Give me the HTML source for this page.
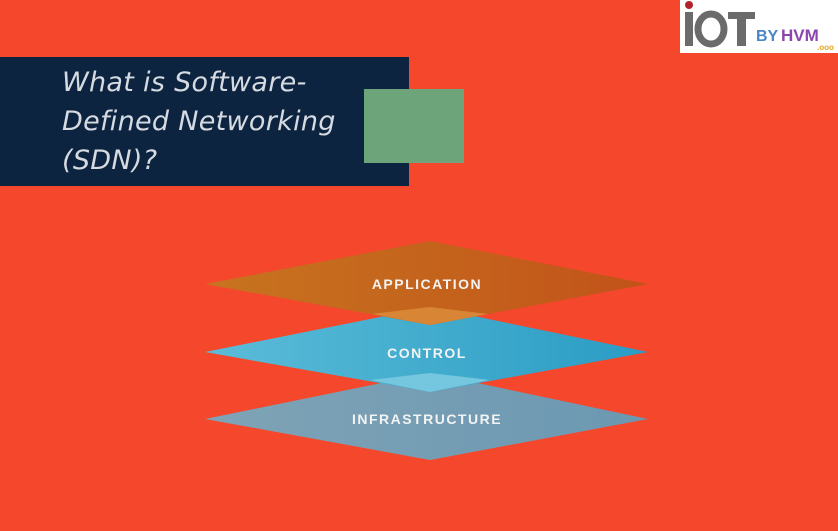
<!DOCTYPE html>
<html><head><style>
body{margin:0;width:838px;height:531px;background:#f4472b;overflow:hidden;position:relative;font-family:"Liberation Sans",sans-serif}
.t{position:absolute;left:0;top:57px;width:409px;height:129px;background:#0d2440}
.t div{position:absolute;left:62px;top:6px;color:#d6dbe2;font-family:"DejaVu Sans","Liberation Sans",sans-serif;font-size:27px;line-height:39px;font-style:italic;letter-spacing:0.3px}
.g{position:absolute;left:364px;top:89px;width:100px;height:74px;background:#6ea47a}
.logo{position:absolute;left:680px;top:0;width:158px;height:53px;background:#fff}
</style></head><body>
<div class="t"><div>What is Software-<br>Defined Networking<br>(SDN)?</div></div>
<div class="g"></div>
<div class="logo">
<svg width="158" height="53">
<circle cx="9" cy="5" r="4" fill="#b2222a"/>
<rect x="5" y="12" width="8" height="34" fill="#6b6b6b"/>
<ellipse cx="31" cy="29" rx="13" ry="15" fill="none" stroke="#6b6b6b" stroke-width="7"/>
<rect x="48" y="12" width="27" height="7" fill="#6b6b6b"/><rect x="57" y="12" width="9" height="34" fill="#6b6b6b"/>
<text x="76" y="41" font-family="Liberation Sans" font-weight="bold" font-size="16" fill="#4a86c5">BY</text>
<text x="101" y="41" font-family="Liberation Sans" font-weight="bold" font-size="17" fill="#8e44ad">HVM</text>
<text x="137" y="50" font-family="Liberation Sans" font-weight="bold" font-size="8" fill="#e6a21e">.ooo</text>
</svg></div>
<svg style="position:absolute;left:0;top:0" width="838" height="531">
<defs>
<linearGradient id="a" x1="0" x2="1"><stop offset="0" stop-color="#c7741f"/><stop offset="1" stop-color="#c2531a"/></linearGradient>
<linearGradient id="c" x1="0" x2="1"><stop offset="0" stop-color="#5bbcd8"/><stop offset="1" stop-color="#2a9cc4"/></linearGradient>
<linearGradient id="i" x1="0" x2="1"><stop offset="0" stop-color="#7fa3b6"/><stop offset="1" stop-color="#6b98b2"/></linearGradient>
</defs>
<polygon points="205,419 430,373 648,419 430,460" fill="url(#i)"/>
<polygon points="205,352 430,307 648,352 430,392" fill="url(#c)"/>
<polygon points="370,380 430,373 490,380 430,392" fill="#74c7df"/>
<polygon points="205,284 430,241 648,284 430,325" fill="url(#a)"/>
<polygon points="372,314 430,307 488,314 430,325" fill="#d98536"/>
<g font-family="Liberation Sans" font-weight="bold" font-size="14" fill="#f3f3f3" text-anchor="middle" letter-spacing="1.5">
<text x="427" y="289">APPLICATION</text>
<text x="427" y="358">CONTROL</text>
<text x="427" y="424">INFRASTRUCTURE</text>
</g>
</svg>
</body></html>
